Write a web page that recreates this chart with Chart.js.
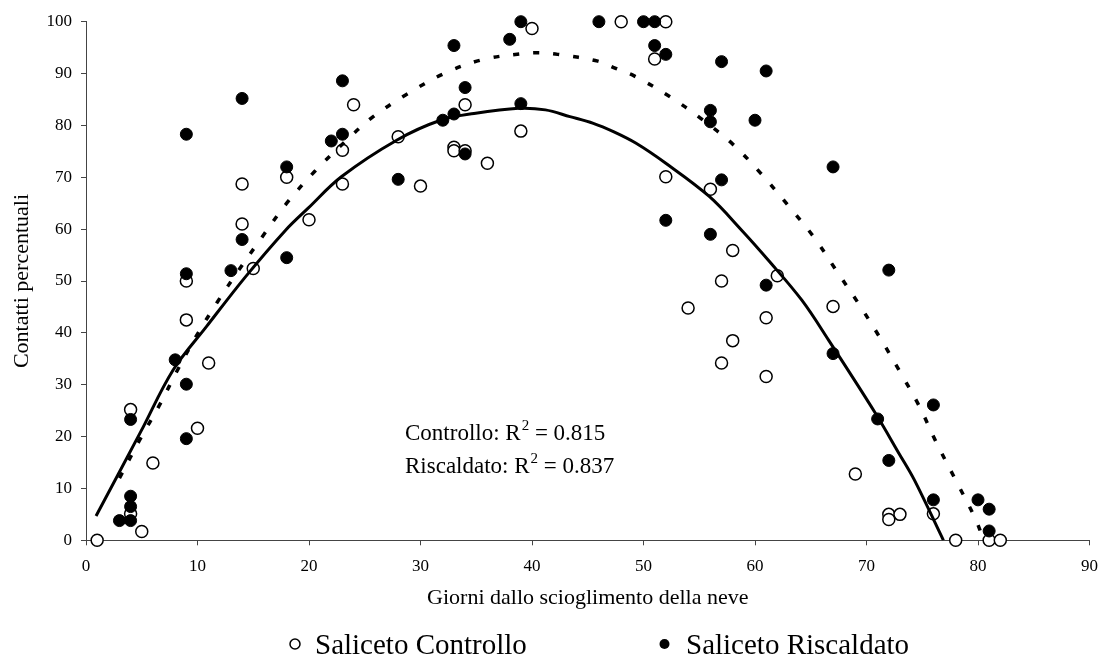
<!DOCTYPE html>
<html>
<head>
<meta charset="utf-8">
<script src="https://cdn.jsdelivr.net/npm/chart.js@4"></script>
<style>
    body { margin: 0; background: #fff; }
    canvas { display: block; }
</style>
</head>
<body>
<canvas id="chart" width="1109" height="659"></canvas>
<script>
// Saliceto Controllo (open circles)
const controlX = [1, 4, 4, 5, 6, 9, 9, 10, 11, 14, 14, 15, 18, 20, 23, 23, 24, 28, 30, 33, 33, 34, 34, 36, 39, 40,
    48, 51, 52, 52, 54, 56, 57, 57, 58, 58, 61, 61, 62, 67, 69, 72, 72, 73, 76, 78, 81, 82];
const controlY = [0, 25.2, 5.1, 1.7, 14.9, 50, 42.5, 21.6, 34.2, 68.7, 61, 52.4, 70, 61.8, 75.2, 68.7, 84, 77.8, 68.3, 75.8, 75.1, 84, 75.1, 72.7, 78.9, 98.7,
    100, 92.8, 100, 70.1, 44.8, 67.7, 50, 34.2, 55.9, 38.5, 42.9, 31.6, 51, 45.1, 12.8, 5, 4, 5, 5.1, 0, 0, 0];

// Saliceto Riscaldato (filled circles)
const heatedX = [3, 4, 4, 4, 4, 8, 9, 9, 9, 9, 13, 14, 14, 18, 18, 22, 23, 23, 28, 32, 33, 33, 34, 34, 38, 39, 39,
    46, 50, 51, 51, 52, 52, 56, 56, 56, 57, 57, 60, 61, 61, 67, 67, 71, 72, 72, 76, 76, 80, 81, 81];
const heatedY = [3.8, 23.3, 8.5, 6.5, 3.8, 34.8, 78.3, 51.4, 30.1, 19.6, 52, 85.2, 58, 72, 54.5, 77, 88.6, 78.3, 69.6, 81, 95.4, 82.2, 87.3, 74.5, 96.6, 100, 84.2,
    100, 100, 100, 95.4, 93.7, 61.7, 82.9, 80.7, 59, 92.3, 69.5, 81, 90.5, 49.2, 72, 36, 23.4, 52.1, 15.4, 26.1, 7.8, 7.8, 6, 1.8];

// trend line of the control plots (solid)
const controlFitX = [0.9, 4.9, 7.8, 10.8, 14.3, 17.9, 19.9, 22.9, 27.9, 31.8, 34.8, 38.8, 41.2, 43.4, 45.5, 47.3, 49.3, 52, 55.9,
    58.8, 61.2, 64.2, 66.6, 70.8, 72.9, 74.3, 76.9];
const controlFitY = [4.7, 20.9, 32.8, 41.2, 50.8, 59.8, 64, 70.1, 77.2, 81, 82.3, 83.3, 83, 81.7, 80.4, 78.8, 76.6, 72.7, 66.3,
    59.8, 54, 46.3, 38.6, 24.5, 16.8, 11.6, 0];

// trend line of the heated plots (dotted)
const heatedFitX = [3, 4.8, 6.6, 8.2, 9.9, 11.8, 13.7, 15.8, 18, 20.5, 23.4, 25.7, 28.7, 32, 35.4, 38.9, 40.6, 42.3, 45.9, 47.5,
    49.2, 52.4, 55.1, 58, 60.5, 63, 65.3, 67.3, 69.3, 71.2, 73, 74.7, 76.3, 78, 79.8, 80.5];
const heatedFitY = [12, 19.3, 26.1, 32.8, 39.4, 46, 52.1, 58.5, 65, 71.1, 77.2, 81.6, 85.9, 89.9, 92.6, 93.8, 94, 93.7, 92.4, 91,
    89.5, 85.5, 81.4, 76.4, 70.8, 64.5, 58.4, 52, 45.6, 39.1, 32.5, 26, 18.7, 11.6, 4, 0];

const xTicks = [0, 10, 20, 30, 40, 50, 60, 70, 80, 90];
const yTicks = [0, 10, 20, 30, 40, 50, 60, 70, 80, 90, 100];

const legendLabels = ['Saliceto Controllo', 'Saliceto Riscaldato'];
const r2Labels = ['Controllo: R', 'Riscaldato: R'];
const r2Values = ['0.815', '0.837'];

const serif = '"Liberation Serif", "Times New Roman", serif';

function toPoints(xs, ys) {
    return xs.map((x, i) => ({ x: x, y: ys[i] }));
}

// Annotation with R squared and the bottom legend
const extrasPlugin = {
    id: 'extras',
    afterDraw(chart) {
        const ctx = chart.ctx;
        ctx.save();
        ctx.fillStyle = '#000';
        ctx.textBaseline = 'alphabetic';

        // R squared text
        const baselines = [440, 473];
        r2Labels.forEach((label, i) => {
            let x = 405;
            ctx.font = '23px ' + serif;
            ctx.fillText(label, x, baselines[i]);
            x += ctx.measureText(label).width + 1;
            ctx.font = '15px ' + serif;
            ctx.fillText('2', x, baselines[i] - 10);
            x += ctx.measureText('2').width;
            ctx.font = '23px ' + serif;
            ctx.fillText(' = ' + r2Values[i], x, baselines[i]);
        });

        // legend
        const legendY = 644;
        const markerX = [295, 664.5];
        const textX = [315, 686];
        ctx.font = '29px ' + serif;
        legendLabels.forEach((label, i) => {
            ctx.beginPath();
            ctx.arc(markerX[i], legendY, 5, 0, Math.PI * 2);
            if (i === 0) {
                ctx.fillStyle = '#fff';
                ctx.fill();
                ctx.lineWidth = 1.5;
                ctx.strokeStyle = '#000';
                ctx.stroke();
            } else {
                ctx.fillStyle = '#000';
                ctx.fill();
            }
            ctx.fillStyle = '#000';
            ctx.fillText(label, textX[i], 654);
        });
        ctx.restore();
    }
};

const ctx = document.getElementById('chart').getContext('2d');
const chart = new Chart(ctx, {
    type: 'scatter',
    data: {
        datasets: [
            {
                label: 'Fit Controllo',
                data: toPoints(controlFitX, controlFitY),
                showLine: true,
                borderColor: '#000',
                borderWidth: 3,
                pointRadius: 0,
                tension: 0.35,
                fill: false,
                order: 0
            },
            {
                label: 'Fit Riscaldato',
                data: toPoints(heatedFitX, heatedFitY),
                showLine: true,
                borderColor: '#000',
                borderWidth: 3.5,
                borderDash: [6, 14],
                pointRadius: 0,
                tension: 0.35,
                fill: false,
                order: 0
            },
            {
                label: legendLabels[1],
                data: toPoints(heatedX, heatedY),
                backgroundColor: '#000',
                borderColor: '#000',
                borderWidth: 1,
                pointRadius: 6,
                clip: false,
                order: 1
            },
            {
                label: legendLabels[0],
                data: toPoints(controlX, controlY),
                backgroundColor: '#fff',
                borderColor: '#000',
                borderWidth: 1.5,
                pointRadius: 6,
                clip: false,
                order: 2
            }
        ]
    },
    options: {
        responsive: false,
        animation: false,
        layout: {
            padding: { left: 0, right: 12, top: 21.7, bottom: 48 }
        },
        plugins: {
            legend: { display: false },
            tooltip: { enabled: false }
        },
        scales: {
            x: {
                type: 'linear',
                min: 0,
                max: 90,
                afterBuildTicks: (scale) => {
                    scale.ticks = xTicks.map(v => ({ value: v }));
                },
                afterFit: (scale) => { scale.height = 70.7; },
                ticks: {
                    color: '#000',
                    padding: 11,
                    font: { family: serif, size: 17 }
                },
                grid: {
                    drawOnChartArea: false,
                    drawTicks: true,
                    tickLength: 5,
                    color: '#444'
                },
                border: { color: '#444', width: 1 },
                title: {
                    display: true,
                    text: 'Giorni dallo scioglimento della neve',
                    color: '#000',
                    padding: 0,
                    font: { family: serif, size: 22 }
                }
            },
            y: {
                type: 'linear',
                min: 0,
                max: 100,
                afterBuildTicks: (scale) => {
                    scale.ticks = yTicks.map(v => ({ value: v }));
                },
                afterFit: (scale) => { scale.width = 86; },
                ticks: {
                    color: '#000',
                    padding: 9,
                    font: { family: serif, size: 17 }
                },
                grid: {
                    drawOnChartArea: false,
                    drawTicks: true,
                    tickLength: 5,
                    color: '#444'
                },
                border: { color: '#444', width: 1 },
                title: {
                    display: true,
                    text: 'Contatti percentuali',
                    color: '#000',
                    padding: { top: 9, bottom: 0 },
                    font: { family: serif, size: 22 }
                }
            }
        }
    },
    plugins: [extrasPlugin]
});
</script>
</body>
</html>
